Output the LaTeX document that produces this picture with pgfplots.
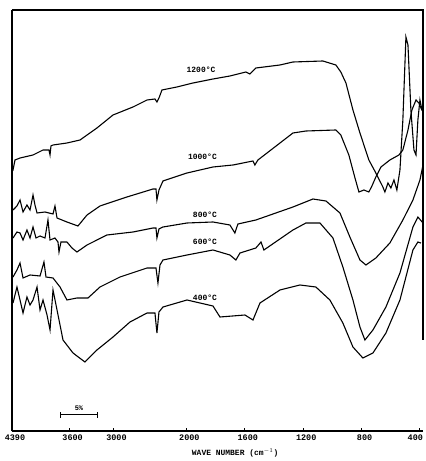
\documentclass[border=0pt]{standalone}
\usepackage{fontspec}
\setmainfont{Liberation Mono}
\usepackage{pgfplots}
\pgfplotsset{compat=1.18}
\begin{document}
\begin{tikzpicture}
\begin{axis}[
  name=ax,
  scale only axis, width=411bp, height=421bp,
  x coord trafo/.code={\pgfmathparse{#1>2000 ? 2000+(#1-2000)/2 : #1}},
  x dir=reverse,
  xmin=379, xmax=4390, ymin=0, ymax=421,
  axis x line*=bottom, axis y line*=left,
  axis line style={-, line width=1.6bp},
  xtick={4390,3600,3000,2000,1600,1200,800,400},
  xticklabels={4390,3600,3000,2000,1600,1200,800,\makebox[0pt][r]{400}},
  ytick=\empty,
  tick align=inside, major tick length=3bp,
  tick style={line width=1bp, black},
  xticklabel style={font=\fontsize{8.5}{9}\selectfont\bfseries, xshift=3bp},
  xlabel={WAVE NUMBER (cm$^{-1}$)},
  xlabel style={font=\fontsize{8}{9}\selectfont\bfseries, at={(axis description cs:0.543,0)}, anchor=center, yshift=-22bp},
  cycle list={black, line width=1.1bp, mark=none\\},
  clip=false,
]
% 1200 C
\addplot coordinates {
(4390,259)(4376,261)(4349,271)(4280,273)(4102,276)(3965,281)(3883,281)(3869,276)(3856,285)(3828,286)
(3637,288)(3458,291)(3226,303)(3006,316)(2732,324)(2540,331)(2431,332)(2404,329)(2376,333)(2335,341)
(2130,344)(1955,348)(1818,352)(1702,355)(1592,359)(1565,357)(1544,360)(1524,363)(1359,366)(1270,369)
(1065,370)(976,366)(942,359)(907,348)(859,321)(811,298)(750,271)(702,258)(654,244)(640,239)
(619,248)(599,243)(578,251)(558,241)(537,261)(517,311)(496,394)(482,386)(462,321)(441,281)
(427,276)(414,311)(400,331)(386,321)
};
% 1000 C
\addplot coordinates {
(4376,221)(4322,225)(4280,231)(4239,219)(4185,226)(4143,221)(4102,236)(4075,226)(4047,218)(3938,219)
(3828,217)(3801,225)(3773,213)(3637,209)(3486,205)(3362,216)(3184,225)(2815,234)(2458,242)(2417,242)
(2404,231)(2376,241)(2321,250)(1996,258)(1818,264)(1681,266)(1544,270)(1531,266)(1510,271)(1270,298)
(1181,300)(976,301)(942,296)(887,276)(845,253)(818,239)(784,241)(750,239)(729,245)(702,254)
(667,264)(606,271)(544,276)(517,281)(482,301)(455,321)(427,331)(407,328)(393,323)(379,319)
};
% 800 C
\addplot coordinates {
(4376,193)(4322,199)(4280,198)(4239,191)(4185,201)(4143,193)(4102,204)(4061,193)(4006,195)(3938,193)
(3897,211)(3869,191)(3801,193)(3760,189)(3746,179)(3719,189)(3637,189)(3568,183)(3500,179)(3362,186)
(3089,196)(2732,199)(2458,203)(2417,203)(2404,193)(2376,202)(2321,204)(1996,208)(1818,209)(1702,206)
(1668,198)(1647,207)(1524,211)(1270,224)(1133,232)(1044,230)(948,218)(880,194)(811,171)(770,166)
(702,173)(606,188)(517,211)(448,231)(400,251)(379,266)
};
% 600 C
\addplot coordinates {
(4376,154)(4322,161)(4280,168)(4239,153)(4143,156)(4006,155)(3952,169)(3924,154)(3828,153)(3732,144)
(3637,131)(3500,133)(3349,133)(3184,144)(2910,154)(2540,163)(2417,163)(2390,148)(2362,166)(2321,171)
(1996,176)(1818,181)(1702,176)(1661,171)(1633,178)(1524,183)(1489,189)(1469,181)(1270,201)(1181,208)
(1085,208)(996,193)(928,164)(859,131)(811,104)(777,91)(722,101)(633,124)(537,158)(448,204)
(414,214)(379,208)
};
% 400 C
\addplot coordinates {
(4376,128)(4322,144)(4280,131)(4239,118)(4185,134)(4143,126)(4102,131)(4047,144)(4006,121)(3965,131)
(3910,116)(3869,101)(3828,141)(3773,121)(3691,91)(3554,78)(3390,69)(3226,81)(3006,94)(2773,109)
(2540,118)(2431,118)(2404,98)(2376,119)(2321,124)(1996,131)(1818,125)(1770,114)(1599,116)(1544,111)
(1496,128)(1359,141)(1222,146)(1113,144)(1017,131)(928,108)(859,84)(791,73)(722,78)(633,98)
(537,131)(448,181)(414,189)(393,188)
};
% temperature labels
\node[font=\fontsize{8}{9}\selectfont\bfseries] at (axis cs:1900,361) {1200°C};
\node[font=\fontsize{8}{9}\selectfont\bfseries] at (axis cs:1890,274) {1000°C};
\node[font=\fontsize{8}{9}\selectfont\bfseries] at (axis cs:1873,216) {800°C};
\node[font=\fontsize{8}{9}\selectfont\bfseries] at (axis cs:1873,189) {600°C};
\node[font=\fontsize{8}{9}\selectfont\bfseries] at (axis cs:1873,133) {400°C};
% scale bar
\draw[line width=1bp] (axis cs:3732,16) -- (axis cs:3212,16);
\draw[line width=1bp] (axis cs:3732,13) -- (axis cs:3732,19);
\draw[line width=1bp] (axis cs:3212,13) -- (axis cs:3212,19);
\node[font=\fontsize{7}{8}\selectfont\bfseries] at (axis cs:3472,23) {5\%};
% top and partial right frame
\draw[line width=1.6bp] (axis description cs:0,1) -- (axis description cs:1,1) -- (axis description cs:1,0.216);
\end{axis}
\pgfresetboundingbox
\path ([shift={(-12bp,-30bp)}]ax.south west) rectangle ([shift={(3bp,10bp)}]ax.north east);
\end{tikzpicture}
\end{document}
